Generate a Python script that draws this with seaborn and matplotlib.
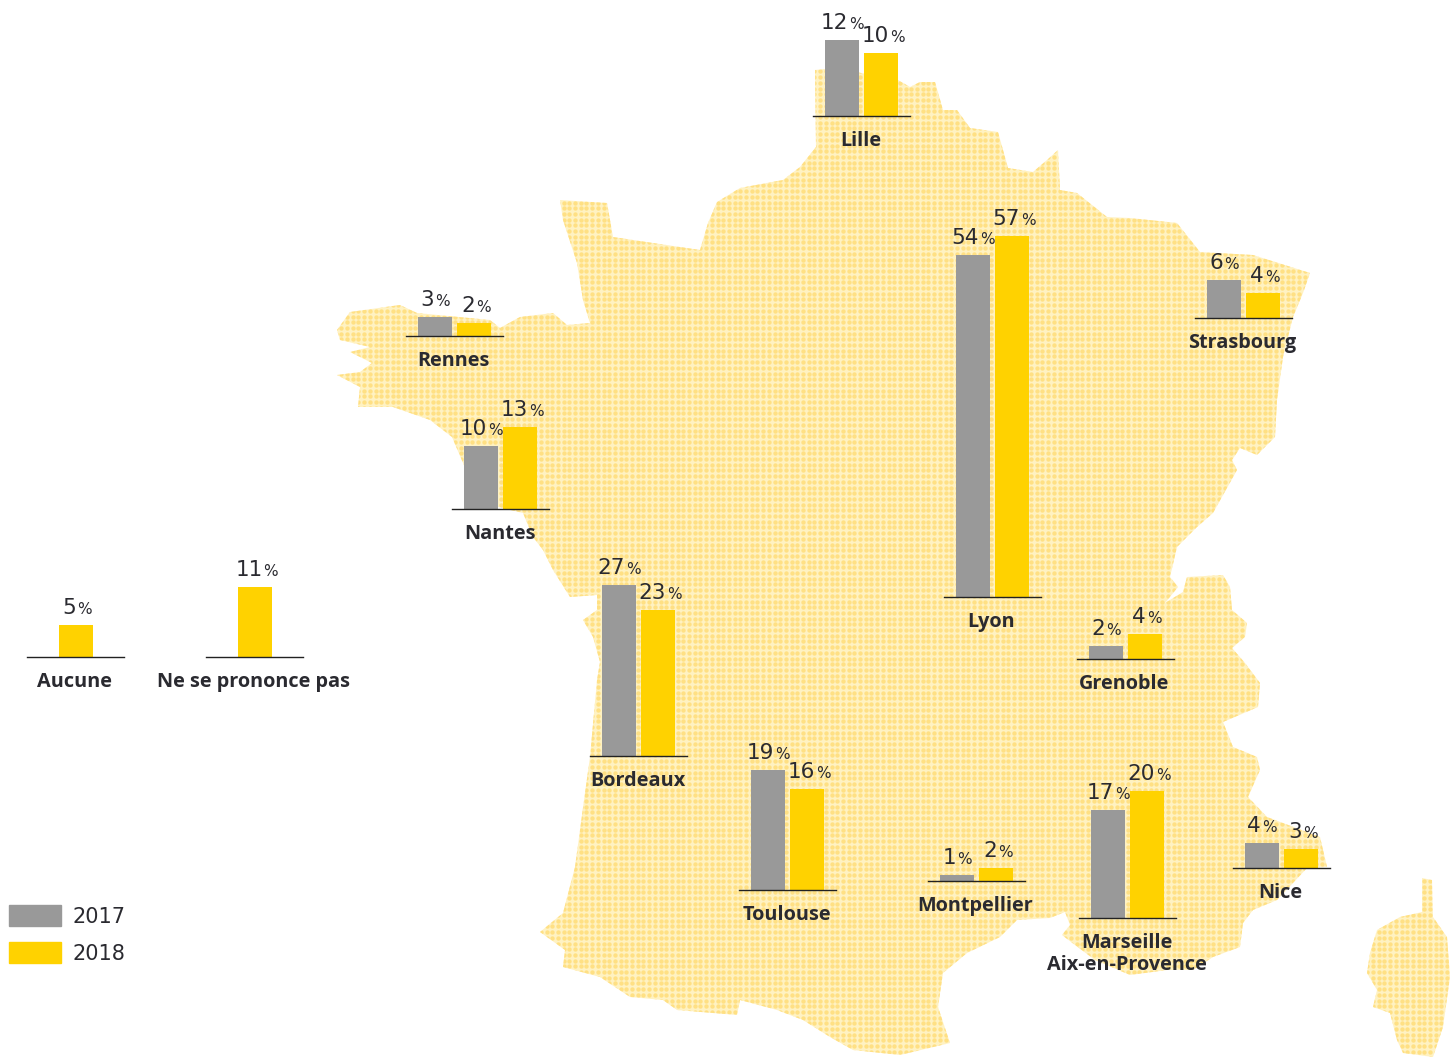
import numpy as np
import pandas as pd
import matplotlib
matplotlib.use('Agg')
import matplotlib.pyplot as plt
from matplotlib.patches import Polygon, Patch
import seaborn as sns

sns.set_theme(style='white')
plt.rcParams['font.family'] = ['DejaVu Sans']

# Values
villes = ['Lille', 'Lyon', 'Strasbourg', 'Rennes', 'Nantes', 'Bordeaux', 'Toulouse',
          'Grenoble', 'Montpellier', 'Marseille\nAix-en-Provence', 'Nice',
          'Aucune', 'Ne se prononce pas']
val_2017 = [12, 54, 6, 3, 10, 27, 19, 2, 1, 17, 4, None, None]
val_2018 = [10, 57, 4, 2, 13, 23, 16, 4, 2, 20, 3, 5, 11]
annees = ['2017', '2018']

# Where each small chart sits on the page (left edge, baseline), in pixels
pos_x = [813, 944, 1195, 406, 452, 590, 739, 1077, 928, 1079, 1233, 27, 206]
pos_y = [116, 597, 318, 336, 509, 756, 890, 659, 881, 918, 868, 657, 657]

GRIS = '#999999'
JAUNE = '#FFD200'
TEXTE = '#2a2a30'
W, H = 1456, 1061
PX_PAR_POINT = 6.33
LARG_AXE = 97

# Outline of France traced by hand, only used as the dotted backdrop
france = [(815, 70), (835, 68), (898, 80), (910, 87), (920, 82), (935, 82), (943, 110),
          (957, 110), (970, 128), (998, 132), (1008, 168), (1033, 172), (1047, 160),
          (1058, 150), (1060, 190), (1077, 193), (1107, 217), (1130, 218), (1177, 223),
          (1200, 252), (1253, 255), (1310, 273), (1303, 293), (1293, 317), (1283, 357),
          (1277, 400), (1275, 437), (1257, 455), (1240, 448), (1232, 460), (1237, 470),
          (1213, 513), (1197, 527), (1177, 547), (1170, 577), (1178, 587), (1165, 603),
          (1183, 592), (1187, 577), (1223, 575), (1230, 587), (1232, 610), (1247, 623),
          (1245, 637), (1232, 648), (1245, 663), (1260, 683), (1258, 707), (1223, 722),
          (1233, 747), (1257, 757), (1260, 770), (1248, 797), (1267, 817), (1320, 837),
          (1327, 867), (1307, 868), (1277, 900), (1253, 910), (1243, 923), (1240, 947),
          (1213, 957), (1193, 970), (1167, 970), (1130, 975), (1095, 960), (1075, 945),
          (1062, 935), (1070, 925), (1065, 912), (1050, 918), (1017, 920), (1000, 937),
          (967, 953), (943, 973), (938, 1007), (950, 1043), (900, 1055), (853, 1050),
          (830, 1037), (803, 1020), (777, 1010), (740, 1000), (737, 1015), (677, 1010),
          (663, 1000), (630, 997), (600, 977), (563, 967), (565, 950), (540, 932),
          (563, 913), (575, 867), (585, 793), (590, 757), (597, 680), (600, 662),
          (593, 637), (583, 620), (597, 610), (597, 595), (570, 597), (553, 570),
          (543, 550), (533, 537), (523, 513), (490, 505), (466, 470), (452, 437),
          (430, 420), (393, 407), (358, 407), (360, 387), (337, 375), (360, 372),
          (372, 363), (350, 352), (370, 347), (340, 340), (337, 330), (350, 312),
          (400, 305), (417, 313), (490, 320), (500, 328), (520, 317), (553, 313),
          (567, 325), (590, 323), (583, 300), (577, 263), (563, 220), (560, 200),
          (607, 203), (613, 237), (653, 243), (700, 250), (708, 223), (717, 202),
          (740, 188), (783, 180), (800, 167), (816, 147)]
corse = [(1422, 878), (1432, 880), (1433, 917), (1447, 937), (1450, 977), (1443, 1027),
         (1433, 1057), (1403, 1053), (1397, 1040), (1390, 1013), (1373, 1007), (1377, 990),
         (1367, 973), (1370, 953), (1377, 930), (1400, 917), (1422, 912)]

fig = plt.figure(figsize=(W / 100, H / 100), dpi=100, facecolor='white')

# Backdrop map
fond = fig.add_axes([0, 0, 1, 1])
fond.set_xlim(0, W)
fond.set_ylim(H, 0)
fond.axis('off')
gx, gy = np.meshgrid(np.arange(330, W, 5.7), np.arange(60, H, 5.7))
for contour in [france, corse]:
    poly = Polygon(contour, closed=True, facecolor='#FFF2C2', edgecolor='none')
    fond.add_patch(poly)
    pts = fond.scatter(gx.ravel(), gy.ravel(), s=10, marker='o', color='#FFE084', linewidths=0)
    pts.set_clip_path(poly)

# One small bar chart per city
for i, ville in enumerate(villes):
    vals = pd.DataFrame({'annee': annees, 'valeur': [val_2017[i], val_2018[i]]}).dropna()
    haut = 400
    ax = fig.add_axes([pos_x[i] / W, 1 - pos_y[i] / H, LARG_AXE / W, haut / H])
    ax.patch.set_alpha(0)
    sns.barplot(data=vals, x='annee', y='valeur', hue='annee', order=list(vals['annee']),
                palette={'2017': GRIS, '2018': JAUNE}, width=34 / 39, saturation=1,
                linewidth=0, legend=False, ax=ax)
    span = LARG_AXE / 39
    centre = (len(vals) - 1) / 2
    ax.set_xlim(centre - span / 2, centre + span / 2)
    ax.set_ylim(0, haut / PX_PAR_POINT)
    ax.set_xticks([])
    ax.set_yticks([])
    ax.set_xlabel('')
    ax.set_ylabel('')
    sns.despine(ax=ax, left=True)
    ax.spines['bottom'].set_color('#222222')
    ax.spines['bottom'].set_linewidth(1.0)

    # value labels, the % sign is smaller than the number
    for annee, k, v in zip(vals['annee'], range(len(vals)), vals['valeur']):
        v = int(v)
        fin = 7 if v >= 10 else 0
        fin += 1 if annee == '2018' else -1
        ax.annotate(str(v), (k, v), xytext=(fin, 11), textcoords='offset pixels',
                    ha='right', va='baseline', fontsize=15.5, color=TEXTE)
        ax.annotate('%', (k, v), xytext=(fin + 1, 11), textcoords='offset pixels',
                    ha='left', va='baseline', fontsize=11, color=TEXTE)

    ax.annotate(ville, (0.5, 0), xycoords='axes fraction', xytext=(-1, -15),
                textcoords='offset pixels', ha='center', va='top', fontsize=14.3,
                fontweight='bold', family='Open Sans', color=TEXTE, linespacing=1.15)

fig.legend(handles=[Patch(color=GRIS, label='2017'), Patch(color=JAUNE, label='2018')],
           loc='upper left', bbox_to_anchor=(9 / W, 1 - 905 / H), frameon=False,
           fontsize=15, labelcolor=TEXTE, handlelength=2.5, handleheight=1.17,
           handletextpad=0.55, labelspacing=0.75, borderpad=0, borderaxespad=0)

fig.savefig('out.png', dpi=100)
